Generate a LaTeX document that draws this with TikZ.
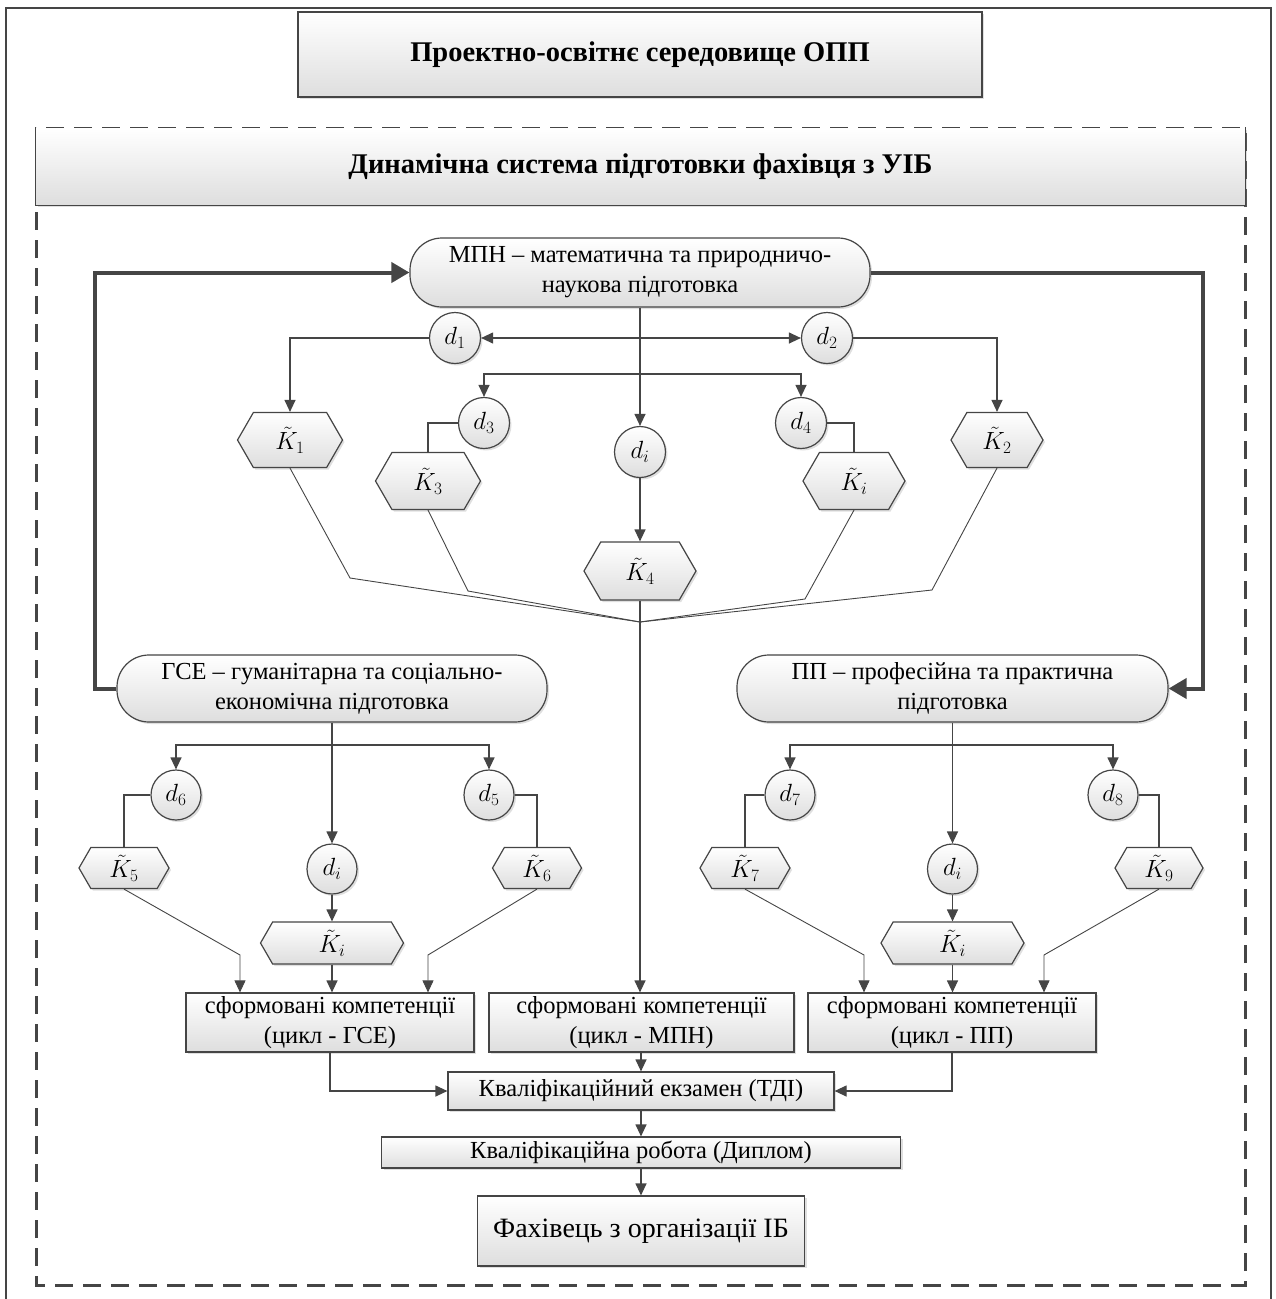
\documentclass[tikz,border=0pt]{standalone}
\usepackage{fontspec}
\setmainfont{Liberation Serif}
\usetikzlibrary{arrows.meta,shapes.misc,shapes.symbols,shadows,calc}
\definecolor{ln}{HTML}{454545}
\tikzset{
  base/.style={draw=ln, line width=1.2pt, top color=white, bottom color=black!13,
    drop shadow={opacity=0.25, shadow xshift=2pt, shadow yshift=-2pt}},
  box/.style={base, rectangle, inner sep=0pt, align=center,
    font=\fontsize{24.5}{30}\selectfont},
  pill/.style={box, rounded corners=32pt},
  dnode/.style={base, circle, minimum size=51pt, inner sep=0pt,
    font=\fontsize{24}{26}\selectfont},
  hex/.style={base, signal, signal to=east and west, signal pointer angle=120,
    inner sep=0pt, font=\fontsize{24}{26}\selectfont},
  link/.style={draw=ln, line width=1.2pt},
  arr/.style={link, -{Triangle[length=12pt,width=11pt]}},
  fine/.style={draw=ln, line width=0.9pt},
  loop/.style={draw=ln, line width=4pt, -{Triangle[length=18pt,width=20pt]}},
}
\begin{document}
\begin{tikzpicture}[x=1pt,y=-1pt]
\useasboundingbox (0,0) rectangle (1276,1299);

% outer frame
\draw[ln, line width=2.5pt] (6,1299) -- (6,8) -- (1271,8) -- (1271,1299);

% dashed frame of the dynamic system
\draw[ln, line width=3pt, dash pattern=on 18pt off 10pt] (36,128) rectangle (1245,1285);

\node[box, minimum width=684pt, minimum height=85pt,
  font=\fontsize{28.5}{32}\selectfont\bfseries] (env) at (640,54.5)
  {Проектно-освітнє середовище ОПП};

\node[base, draw=none, rectangle, minimum width=1209pt, minimum height=77pt,
  inner sep=0pt, font=\fontsize{28.5}{32}\selectfont\bfseries] (hdr) at (640.5,166.5)
  {Динамічна система підготовки фахівця з УІБ};
\draw[link] (hdr.north west) -- (hdr.south west) -- (hdr.south east) -- (hdr.north east);

% discipline cycles
\node[pill, minimum width=460pt, minimum height=69pt] (mpn) at (640,272.5)
  {МПН – математична та природничо-\\наукова підготовка};
\node[pill, minimum width=430pt, minimum height=67pt] (gse) at (332,688.5)
  {ГСЕ – гуманітарна та соціально-\\економічна підготовка};
\node[pill, minimum width=431pt, minimum height=67pt] (pp) at (952.5,688.5)
  {ПП – професійна та практична\\підготовка};

% upper tree
\node[dnode] (d1) at (455,338) {$d_1$};
\node[dnode] (d2) at (827,338) {$d_2$};
\node[dnode] (d3) at (484,423) {$d_3$};
\node[dnode] (d4) at (801,423) {$d_4$};
\node[dnode] (di) at (640,452) {$d_i$};
\node[hex, minimum width=105pt, minimum height=55pt] (K1) at (290,440) {$\tilde K_1$};
\node[hex, minimum width=92pt, minimum height=55pt] (K2) at (997,440) {$\tilde K_2$};
\node[hex, minimum width=105pt, minimum height=57pt] (K3) at (428,481) {$\tilde K_3$};
\node[hex, minimum width=102pt, minimum height=57pt] (Ki) at (854,481) {$\tilde K_i$};
\node[hex, minimum width=112pt, minimum height=58pt] (K4) at (640,571) {$\tilde K_4$};

% lower left tree
\node[dnode, minimum size=50pt] (d6) at (176,795) {$d_6$};
\node[dnode, minimum size=50pt] (d5) at (489,795) {$d_5$};
\node[dnode, minimum size=50pt] (dg) at (332,869) {$d_i$};
\node[hex, minimum width=90pt, minimum height=41pt] (K5) at (124,868) {$\tilde K_5$};
\node[hex, minimum width=89pt, minimum height=41pt] (K6) at (537,868) {$\tilde K_6$};
\node[hex, minimum width=143pt, minimum height=42pt] (Kg) at (332,943) {$\tilde K_i$};

% lower right tree
\node[dnode, minimum size=50pt] (d7) at (790,795) {$d_7$};
\node[dnode, minimum size=50pt] (d8) at (1113,795) {$d_8$};
\node[dnode, minimum size=50pt] (dp) at (952.5,869) {$d_i$};
\node[hex, minimum width=90pt, minimum height=41pt] (K7) at (745,868) {$\tilde K_7$};
\node[hex, minimum width=88pt, minimum height=41pt] (K9) at (1159,868) {$\tilde K_9$};
\node[hex, minimum width=143pt, minimum height=42pt] (Kp) at (952.5,943) {$\tilde K_i$};

% results
\node[box, minimum width=288pt, minimum height=59pt] (cg) at (330,1022.5)
  {сформовані компетенції\\(цикл - ГСЕ)};
\node[box, minimum width=305pt, minimum height=59pt] (cm) at (641.5,1022.5)
  {сформовані компетенції\\(цикл - МПН)};
\node[box, minimum width=288pt, minimum height=59pt] (cp) at (952,1022.5)
  {сформовані компетенції\\(цикл - ПП)};
\node[box, minimum width=386pt, minimum height=38pt] (exam) at (641,1091)
  {Кваліфікаційний екзамен (ТДІ)};
\node[box, minimum width=519pt, minimum height=31pt] (dip) at (641,1152.5)
  {Кваліфікаційна робота (Диплом)};
\node[box, minimum width=327pt, minimum height=70pt,
  font=\fontsize{28}{32}\selectfont] (fin) at (641,1231)
  {Фахівець з організації ІБ};

% feedback loops between cycles
\coordinate (lbend) at (95,688.5);
\coordinate (rbend) at (1203,272.5);
\draw[loop] (gse.west) -- (lbend) |- (mpn.west);
\draw[loop] (mpn.east) -- (rbend) |- (pp.east);

% upper tree connectors
\coordinate (m1) at (640,338);
\coordinate (m2) at (640,374);
\draw[arr] (mpn.south) -- (di.north);
\draw[arr] (m1) -- (d1.east);
\draw[arr] (m1) -- (d2.west);
\draw[arr] (m2) -| (d3.north);
\draw[arr] (m2) -| (d4.north);
\draw[arr] (d1.west) -| (K1.north);
\draw[arr] (d2.east) -| (K2.north);
\draw[link] (d3.west) -| (K3.north);
\draw[link] (d4.east) -| (Ki.north);
\draw[arr] (di.south) -- (K4.north);

\coordinate (cv) at (640,622);
\coordinate (b1) at (350,578);
\coordinate (b3) at (468,591);
\coordinate (bi) at (805,599);
\coordinate (b2) at (932,590);
\draw[fine] (K1.south) -- (b1) -- (cv);
\draw[fine] (K3.south) -- (b3) -- (cv);
\draw[fine] (Ki.south) -- (bi) -- (cv);
\draw[fine] (K2.south) -- (b2) -- (cv);
\draw[link] (K4.south) -- (cv);
\draw[arr] (cv) -- (cv |- cm.north);

% lower left connectors
\coordinate (g1) at (332,745);
\draw[arr] (gse.south) -- (dg.north);
\draw[arr] (g1) -| (d6.north);
\draw[arr] (g1) -| (d5.north);
\draw[link] (d6.west) -| (K5.north);
\draw[link] (d5.east) -| (K6.north);
\draw[arr] (dg.south) -- (Kg.north);
\coordinate (k5b) at (240,955);
\coordinate (k6b) at (428,955);
\draw[fine, -{Triangle[length=12pt,width=11pt]}] (K5.south) -- (k5b) -- (k5b |- cg.north);
\draw[fine, -{Triangle[length=12pt,width=11pt]}] (K6.south) -- (k6b) -- (k6b |- cg.north);
\draw[arr] (Kg.south) -- (Kg.south |- cg.north);

% lower right connectors
\coordinate (p1) at (952.5,745);
\draw[arr] (pp.south) -- (dp.north);
\draw[arr] (p1) -| (d7.north);
\draw[arr] (p1) -| (d8.north);
\draw[link] (d7.west) -| (K7.north);
\draw[link] (d8.east) -| (K9.north);
\draw[arr] (dp.south) -- (Kp.north);
\coordinate (k7b) at (864,955);
\coordinate (k9b) at (1044,955);
\draw[fine, -{Triangle[length=12pt,width=11pt]}] (K7.south) -- (k7b) -- (k7b |- cp.north);
\draw[fine, -{Triangle[length=12pt,width=11pt]}] (K9.south) -- (k9b) -- (k9b |- cp.north);
\draw[arr] (Kp.south) -- (Kp.south |- cp.north);

% final stages
\draw[arr] (cm.south -| exam.north) -- (exam.north);
\draw[arr] (cg.south) |- (exam.west);
\draw[arr] (cp.south) |- (exam.east);
\draw[arr] (exam.south) -- (dip.north);
\draw[arr] (dip.south) -- (fin.north);
\end{tikzpicture}
\end{document}
